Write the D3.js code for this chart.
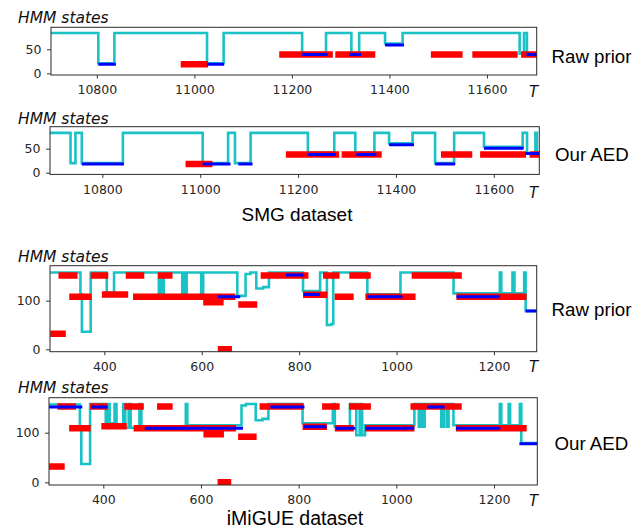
<!DOCTYPE html>
<html>
<head>
<meta charset="utf-8">
<script src="https://cdn.jsdelivr.net/npm/d3@7"></script>
<style>
  body { margin: 0; background: #fff; }
  svg { display: block; }
  .tick text { font-family: "DejaVu Sans", sans-serif; font-size: 12.5px; fill: #262626; }
  .tick line { stroke: #333; }
</style>
</head>
<body>
<svg id="chart" width="644" height="528"></svg>
<script>

// ---- SMG dataset, raw prior ----
// cyan: predicted HMM state, step points [T, state]
var smgRawCyan = [[10706, 84], [10803, 21], [10836, 84], [11026, 21], [11060, 84], [11221, 42], [11270, 84],
  [11322, 42], [11338, 84], [11391, 62], [11427, 84], [11667, 41], [11676, 84], [11682, 41], [11702, 41]];
// red / blue: segments [start, end, state]
var smgRawRed = [[10972, 11028, 19], [11174, 11284, 39], [11289, 11371, 39], [11485, 11550, 39],
  [11570, 11663, 39], [11670, 11710, 39]];
var smgRawBlue = [[10803, 10839, 19], [11026, 11061, 19], [11221, 11273, 39], [11318, 11342, 39],
  [11391, 11430, 59], [11681, 11710, 39]];

// ---- SMG dataset, our AED ----
var smgAedCyan = [[10693, 83], [10735, 20], [10745, 83], [10758, 20], [10842, 83], [11005, 20], [11057, 83],
  [11071, 20], [11103, 83], [11220, 42], [11274, 83], [11317, 42], [11356, 83], [11386, 61], [11434, 83],
  [11480, 20], [11519, 83], [11580, 54], [11659, 83], [11668, 40], [11685, 83], [11688, 40], [11693, 40]];
var smgAedRed = [[10970, 11025, 18], [11175, 11284, 38], [11289, 11371, 38], [11492, 11556, 38],
  [11572, 11666, 38], [11673, 11700, 38]];
var smgAedBlue = [[10758, 10844, 18], [11005, 11062, 18], [11078, 11107, 18], [11220, 11277, 38],
  [11319, 11360, 38], [11386, 11437, 58], [11480, 11521, 18], [11580, 11661, 51], [11664, 11700, 40]];

// ---- iMiGUE dataset, raw prior ----
var miRawCyan = [[289, 158], [351, 113], [354, 36], [372, 158], [405, 117], [420, 158], [512, 115], [516, 158],
  [519, 115], [522, 158], [560, 115], [563, 158], [566, 115], [569, 158], [599, 115], [603, 158], [673, 110],
  [690, 155], [700, 158], [712, 125], [726, 128], [738, 158], [808, 120], [843, 158], [857, 50], [866, 52],
  [870, 158], [940, 113], [1008, 158], [1117, 115], [1212, 158], [1215, 115], [1238, 158], [1242, 115],
  [1262, 158], [1265, 79], [1288, 79]];
var miRawRed = [[289, 321, 32], [306, 345, 152], [328, 374, 108], [372, 408, 152], [395, 449, 113],
  [444, 482, 152], [459, 669, 108], [510, 540, 152], [603, 645, 97], [633, 662, 0], [675, 714, 92],
  [721, 819, 152], [808, 858, 112], [849, 883, 152], [873, 912, 108], [903, 947, 152], [936, 1039, 108],
  [1031, 1134, 152], [1123, 1267, 108]];
var miRawBlue = [[633, 679, 108], [773, 809, 153], [809, 843, 113], [940, 1012, 108], [1123, 1212, 108],
  [1265, 1290, 79]];

// ---- iMiGUE dataset, our AED ----
var miAedCyan = [[289, 157], [352, 113], [355, 37], [373, 158], [405, 119], [409, 158], [413, 119], [423, 158],
  [427, 115], [441, 158], [445, 110], [452, 158], [456, 110], [474, 158], [478, 113], [569, 158], [572, 115],
  [683, 155], [692, 158], [712, 125], [726, 128], [738, 158], [808, 119], [870, 158], [874, 112], [905, 158],
  [918, 95], [925, 158], [930, 95], [936, 115], [1037, 158], [1046, 112], [1050, 158], [1054, 112],
  [1058, 158], [1092, 112], [1097, 158], [1103, 112], [1107, 158], [1117, 115], [1212, 158], [1215, 115],
  [1230, 158], [1233, 115], [1253, 158], [1256, 79], [1289, 79]];
var miAedRed = [[289, 321, 32], [306, 344, 153], [330, 374, 109], [373, 409, 153], [396, 448, 113],
  [443, 483, 153], [462, 672, 109], [510, 542, 153], [605, 647, 97], [634, 662, 0], [676, 714, 92],
  [720, 810, 153], [808, 858, 112], [848, 884, 153], [874, 913, 109], [903, 948, 153], [936, 1037, 109],
  [1029, 1134, 153], [1122, 1267, 109]];
var miAedBlue = [[289, 357, 152], [375, 409, 152], [485, 686, 109], [742, 812, 152], [811, 857, 112],
  [876, 916, 109], [937, 1037, 109], [1063, 1099, 152], [1122, 1213, 109], [1252, 1290, 78]];

var smgTicks = [10800, 11000, 11200, 11400, 11600];
var miTicks = [400, 600, 800, 1000, 1200];
var smgYTicks = [0, 50];
var miYTicks = [0, 100];

var panels = [
  { left: 51, right: 536.7, top: 27.3, bottom: 75, xDomain: [10706, 11702], yDomain: [-3.5, 95.8],
    xTicks: smgTicks, yTicks: smgYTicks, cyan: smgRawCyan, red: smgRawRed, blue: smgRawBlue,
    label: 'Raw prior', labelX: 551.5, labelY: 62.5, titleY: 22.5, tY: 96.7 },
  { left: 50, right: 539.3, top: 126.7, bottom: 174.4, xDomain: [10693, 11693], yDomain: [-3.5, 95.8],
    xTicks: smgTicks, yTicks: smgYTicks, cyan: smgAedCyan, red: smgAedRed, blue: smgAedBlue,
    label: 'Our AED', labelX: 555, labelY: 160.5, titleY: 123.5, tY: 197.5 },
  { left: 50, right: 536.7, top: 265.7, bottom: 351.7, xDomain: [288.5, 1287.7], yDomain: [-4.9, 172],
    xTicks: miTicks, yTicks: miYTicks, cyan: miRawCyan, red: miRawRed, blue: miRawBlue,
    label: 'Raw prior', labelX: 551.5, labelY: 316, titleY: 262.3, tY: 371.5 },
  { left: 49, right: 537.3, top: 397.7, bottom: 485, xDomain: [288.8, 1288.7], yDomain: [-5.4, 170.6],
    xTicks: miTicks, yTicks: miYTicks, cyan: miAedCyan, red: miAedRed, blue: miAedBlue,
    label: 'Our AED', labelX: 554.5, labelY: 450, titleY: 393.3, tY: 506 }
];

var svg = d3.select('#chart');
svg.append('rect').attr('width', 644).attr('height', 528).attr('fill', '#fff');

panels.forEach(function(p, i) {
  var x = d3.scaleLinear().domain(p.xDomain).range([p.left, p.right]);
  var y = d3.scaleLinear().domain(p.yDomain).range([p.bottom, p.top]);
  var g = svg.append('g');

  svg.append('clipPath').attr('id', 'clip' + i)
    .append('rect')
    .attr('x', p.left).attr('y', p.top)
    .attr('width', p.right - p.left).attr('height', p.bottom - p.top);

  var plot = g.append('g').attr('clip-path', 'url(#clip' + i + ')');

  plot.append('path')
    .datum(p.cyan)
    .attr('d', d3.line()
      .x(function(d) { return x(d[0]); })
      .y(function(d) { return y(d[1]); })
      .curve(d3.curveStepAfter))
    .attr('fill', 'none')
    .attr('stroke', '#1ac2c6')
    .attr('stroke-width', 2.6);

  plot.selectAll('line.red')
    .data(p.red)
    .enter()
    .append('line')
    .attr('class', 'red')
    .attr('x1', function(d) { return x(d[0]); })
    .attr('x2', function(d) { return x(d[1]); })
    .attr('y1', function(d) { return y(d[2]); })
    .attr('y2', function(d) { return y(d[2]); })
    .attr('stroke', '#ff0000')
    .attr('stroke-width', 6.5);

  plot.selectAll('line.blue')
    .data(p.blue)
    .enter()
    .append('line')
    .attr('class', 'blue')
    .attr('x1', function(d) { return x(d[0]); })
    .attr('x2', function(d) { return x(d[1]); })
    .attr('y1', function(d) { return y(d[2]); })
    .attr('y2', function(d) { return y(d[2]); })
    .attr('stroke', '#0000ff')
    .attr('stroke-width', 3);

  var xAxis = g.append('g')
    .attr('transform', 'translate(0,' + p.bottom + ')')
    .call(d3.axisBottom(x).tickValues(p.xTicks).tickSize(3.5).tickPadding(7).tickFormat(d3.format('d')));
  xAxis.select('.domain').remove();

  var yAxis = g.append('g')
    .attr('transform', 'translate(' + p.left + ',0)')
    .call(d3.axisLeft(y).tickValues(p.yTicks).tickSize(4).tickPadding(5.5).tickFormat(d3.format('d')));
  yAxis.select('.domain').remove();

  g.append('rect')
    .attr('x', p.left).attr('y', p.top)
    .attr('width', p.right - p.left).attr('height', p.bottom - p.top)
    .attr('fill', 'none')
    .attr('stroke', '#2b2b2b')
    .attr('stroke-width', 1);

  g.append('text')
    .attr('x', 18).attr('y', p.titleY)
    .attr('font-family', 'DejaVu Sans, sans-serif')
    .attr('font-style', 'italic')
    .attr('font-size', 15.5)
    .attr('fill', '#111')
    .text('HMM states');

  g.append('text')
    .attr('x', 533.5).attr('y', p.tY)
    .attr('text-anchor', 'middle')
    .attr('font-family', 'DejaVu Sans, sans-serif')
    .attr('font-style', 'italic')
    .attr('font-size', 15)
    .attr('fill', '#111')
    .text('T');

  g.append('text')
    .attr('x', p.labelX).attr('y', p.labelY)
    .attr('font-family', 'Liberation Sans, Arial, sans-serif')
    .attr('font-size', 18.7)
    .attr('fill', '#000')
    .text(p.label);
});

svg.append('text')
  .attr('x', 297).attr('y', 221)
  .attr('text-anchor', 'middle')
  .attr('font-family', 'Liberation Sans, Arial, sans-serif')
  .attr('font-size', 19)
  .text('SMG dataset');

svg.append('text')
  .attr('x', 295).attr('y', 524.5)
  .attr('text-anchor', 'middle')
  .attr('font-family', 'Liberation Sans, Arial, sans-serif')
  .attr('font-size', 19.5)
  .text('iMiGUE dataset');

</script>
</body>
</html>
